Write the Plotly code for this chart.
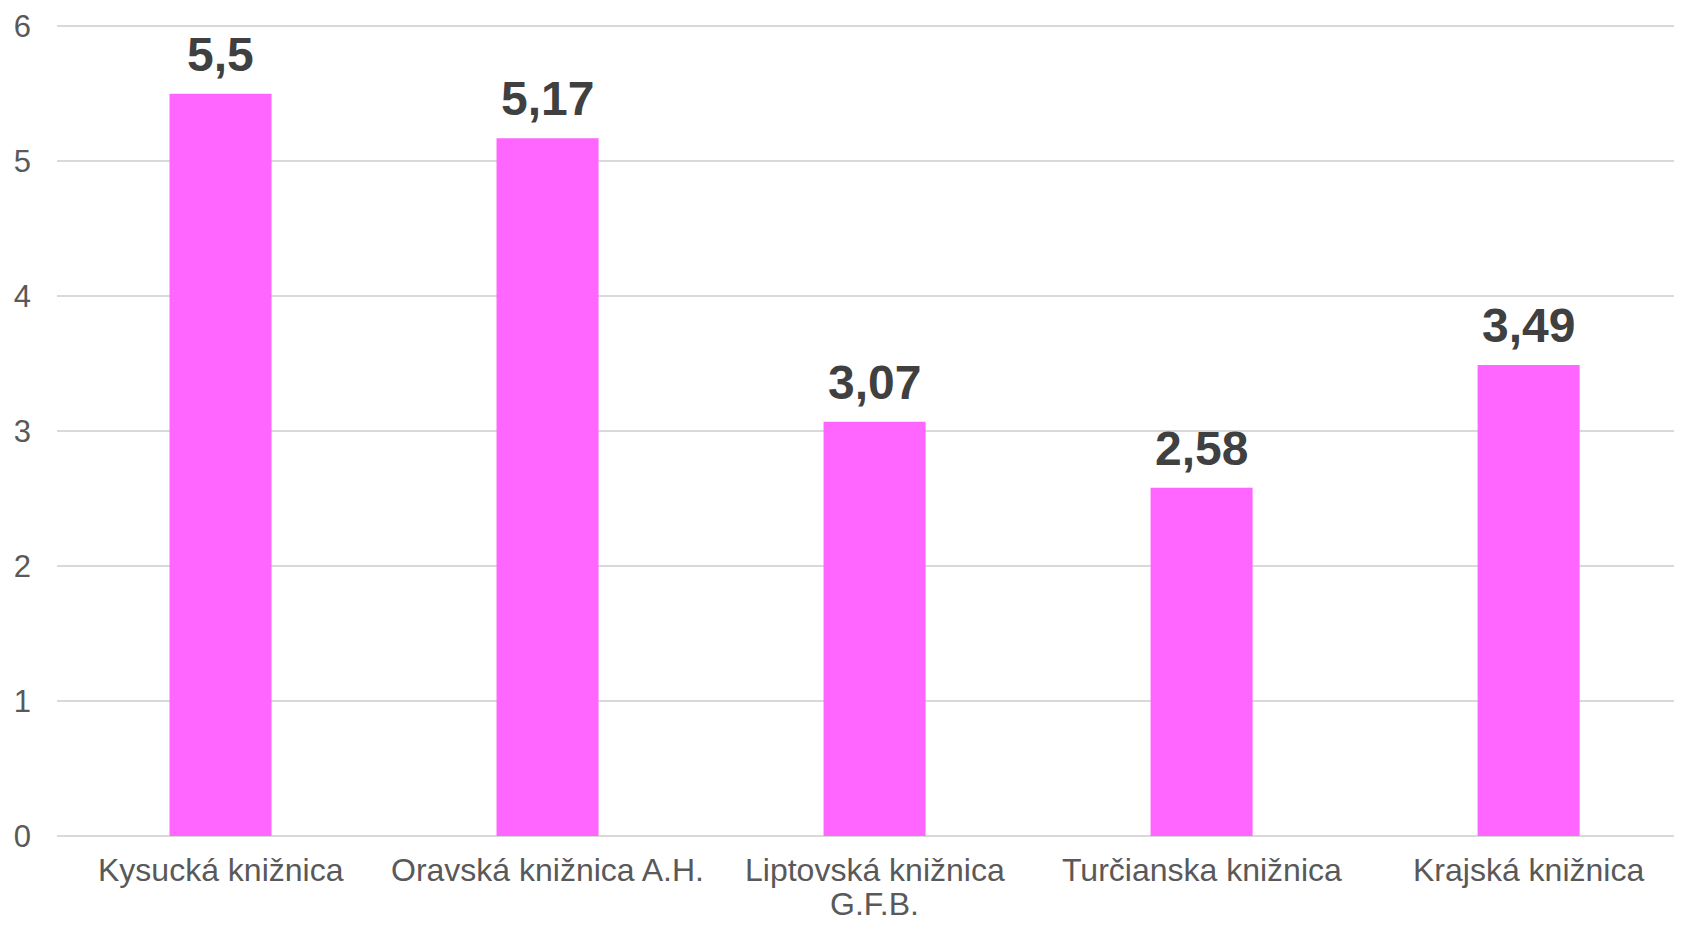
import plotly.graph_objects as go

categories = ["Kysucká knižnica", "Oravská knižnica A.H.", "Liptovská knižnica<br>G.F.B.",
              "Turčianska knižnica", "Krajská knižnica"]
values = [5.5, 5.17, 3.07, 2.58, 3.49]
value_labels = ["5,5", "5,17", "3,07", "2,58", "3,49"]

FONT = "Liberation Sans, Arial"

fig = go.Figure()
fig.add_trace(go.Bar(
    x=categories, y=values,
    marker=dict(color="#FF66FF", line=dict(width=0)),
    hoverinfo="skip",
))

for c, v, t in zip(categories, values, value_labels):
    fig.add_annotation(x=c, y=v, text=f"<b>{t}</b>", showarrow=False,
                       yanchor="bottom", yshift=11,
                       font=dict(family=FONT, size=48, color="#404040"))

# category labels (one annotation per text line, tighter line spacing as in the reference)
for c in categories:
    for i, line in enumerate(c.split("<br>")):
        fig.add_annotation(x=c, xref="x", y=0, yref="paper", text=line, showarrow=False,
                           yanchor="top", yshift=-14 - 34 * i,
                           font=dict(family=FONT, size=32, color="#595959"))

fig.update_layout(
    width=1674, height=917,
    margin=dict(l=49, r=0, t=17, b=89),
    paper_bgcolor="white", plot_bgcolor="white",
    bargap=0.688,
    showlegend=False,
    font=dict(family=FONT, size=30, color="#595959"),
)
fig.update_xaxes(
    range=[-0.5, 4.469], showgrid=False, zeroline=False, showline=False,
    ticks="", showticklabels=False, automargin=False,
)
fig.update_yaxes(
    range=[0, 6.01], tickvals=[0, 1, 2, 3, 4, 5, 6], showgrid=True, gridcolor="#D9D9D9", gridwidth=2,
    zeroline=True, zerolinecolor="#D9D9D9", zerolinewidth=2, showline=False,
    ticks="", ticklabelstandoff=25, automargin=False,
    tickfont=dict(size=31, color="#595959"),
)

fig.write_html("out.html")
